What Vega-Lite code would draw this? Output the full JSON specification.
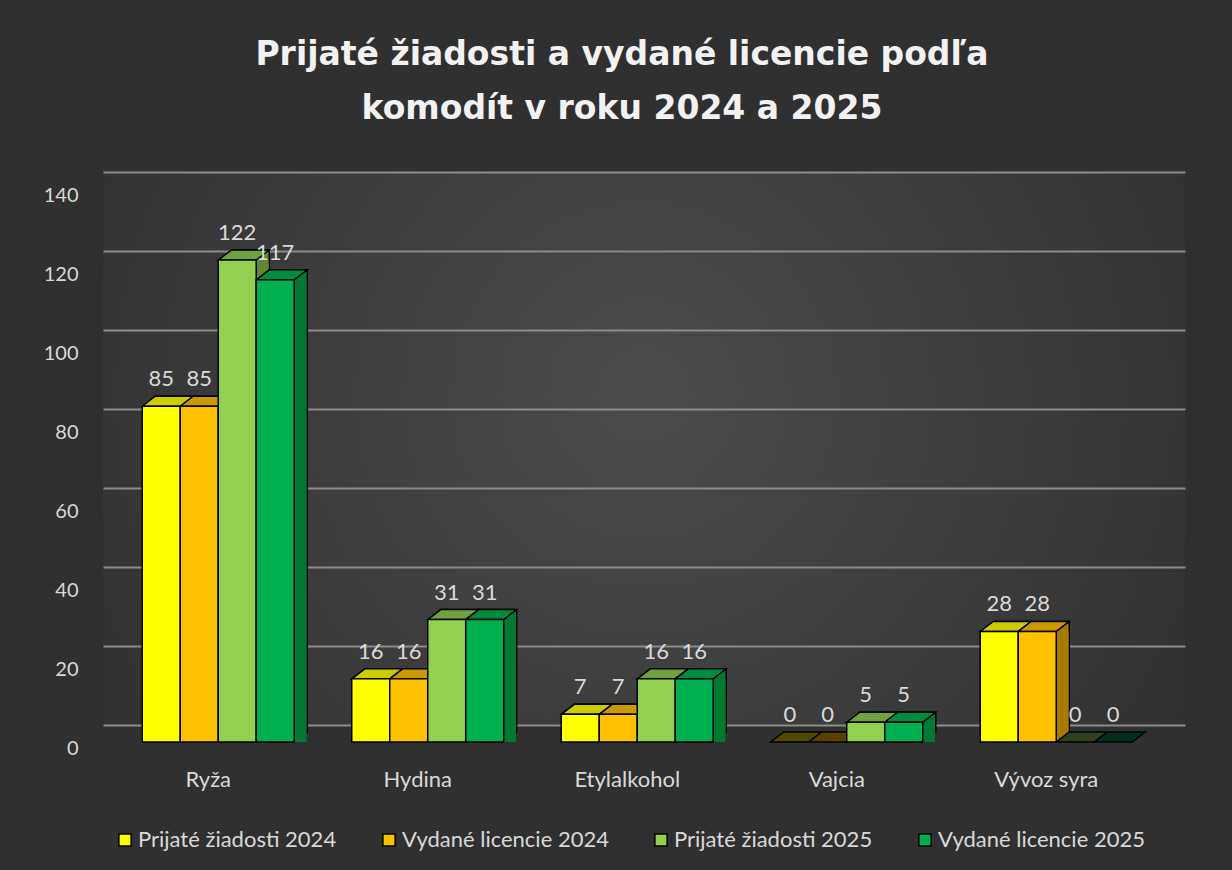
{
  "$schema": "https://vega.github.io/schema/vega-lite/v6.json",
  "width": 1082,
  "height": 553,
  "autosize": {"type": "none"},
  "padding": {"left": 103, "top": 172, "right": 47, "bottom": 145},
  "background": "#303030",
  "title": {
    "text": ["Prijaté žiadosti a vydané licencie podľa", "komodít v roku 2024 a 2025"],
    "font": "DejaVu Sans",
    "fontSize": 33,
    "fontWeight": "bold",
    "color": "#f2f2f2",
    "anchor": "middle",
    "frame": "group",
    "dx": -22,
    "offset": 46,
    "lineHeight": 54
  },
  "data": {
    "values": [
      {"komodita": "Ryža", "seria": "Prijaté žiadosti 2024", "hodnota": 85},
      {"komodita": "Ryža", "seria": "Vydané licencie 2024", "hodnota": 85},
      {"komodita": "Ryža", "seria": "Prijaté žiadosti 2025", "hodnota": 122},
      {"komodita": "Ryža", "seria": "Vydané licencie 2025", "hodnota": 117},
      {"komodita": "Hydina", "seria": "Prijaté žiadosti 2024", "hodnota": 16},
      {"komodita": "Hydina", "seria": "Vydané licencie 2024", "hodnota": 16},
      {"komodita": "Hydina", "seria": "Prijaté žiadosti 2025", "hodnota": 31},
      {"komodita": "Hydina", "seria": "Vydané licencie 2025", "hodnota": 31},
      {"komodita": "Etylalkohol", "seria": "Prijaté žiadosti 2024", "hodnota": 7},
      {"komodita": "Etylalkohol", "seria": "Vydané licencie 2024", "hodnota": 7},
      {"komodita": "Etylalkohol", "seria": "Prijaté žiadosti 2025", "hodnota": 16},
      {"komodita": "Etylalkohol", "seria": "Vydané licencie 2025", "hodnota": 16},
      {"komodita": "Vajcia", "seria": "Prijaté žiadosti 2024", "hodnota": 0},
      {"komodita": "Vajcia", "seria": "Vydané licencie 2024", "hodnota": 0},
      {"komodita": "Vajcia", "seria": "Prijaté žiadosti 2025", "hodnota": 5},
      {"komodita": "Vajcia", "seria": "Vydané licencie 2025", "hodnota": 5},
      {"komodita": "Vývoz syra", "seria": "Prijaté žiadosti 2024", "hodnota": 28},
      {"komodita": "Vývoz syra", "seria": "Vydané licencie 2024", "hodnota": 28},
      {"komodita": "Vývoz syra", "seria": "Prijaté žiadosti 2025", "hodnota": 0},
      {"komodita": "Vývoz syra", "seria": "Vydané licencie 2025", "hodnota": 0}
    ]
  },
  "encoding": {
    "x": {
      "field": "komodita",
      "type": "nominal",
      "sort": ["Ryža", "Hydina", "Etylalkohol", "Vajcia", "Vývoz syra"],
      "scale": {"paddingInner": 0, "paddingOuter": 0.0823, "align": 0.304},
      "axis": {"title": null, "labelAngle": 0, "labelPadding": 44, "labelOffset": -10, "labelFontSize": 22, "grid": false}
    },
    "y": {
      "field": "hodnota",
      "type": "quantitative",
      "scale": {"domain": [0, 140], "nice": false},
      "axis": {"title": null, "values": [0, 20, 40, 60, 80, 100, 120, 140], "grid": true, "labelPadding": 25, "labelOffset": 23}
    }
  },
  "layer": [
    {
      "transform": [{"filter": "datum.hodnota > 0"}],
      "mark": {"type": "bar", "yOffset": 7, "y2Offset": 7, "stroke": "black", "strokeWidth": 1.5},
      "encoding": {
        "xOffset": {"field": "seria", "type": "nominal", "sort": ["Prijaté žiadosti 2024", "Vydané licencie 2024", "Prijaté žiadosti 2025", "Vydané licencie 2025"], "scale": {"type": "band", "paddingInner": 0, "paddingOuter": 0.757, "align": 0.726}},
        "fill": {"field": "seria", "type": "nominal", "scale": {"domain": ["Prijaté žiadosti 2024", "Vydané licencie 2024", "Prijaté žiadosti 2025", "Vydané licencie 2025"], "range": ["#a3a300", "#a67b00", "#5e8a35", "#007a33"]}, "legend": null}
      }
    },
    {
      "transform": [{"filter": "datum.hodnota > 0"}],
      "mark": {"type": "bar", "yOffset": 17, "y2Offset": 17, "strokeWidth": 0},
      "encoding": {
        "xOffset": {"field": "seria", "type": "nominal", "sort": ["Prijaté žiadosti 2024", "Vydané licencie 2024", "Prijaté žiadosti 2025", "Vydané licencie 2025"], "scale": {"type": "band", "paddingInner": 0, "paddingOuter": 0.757, "align": 0.713}},
        "fill": {"field": "seria", "type": "nominal", "scale": {"domain": ["Prijaté žiadosti 2024", "Vydané licencie 2024", "Prijaté žiadosti 2025", "Vydané licencie 2025"], "range": ["#a3a300", "#a67b00", "#5e8a35", "#007a33"]}, "legend": null}
      }
    },
    {
      "transform": [{"filter": "datum.hodnota > 0"}],
      "mark": {"type": "point", "filled": true, "opacity": 1, "yOffset": 17, "size": 1444, "shape": "M-1,0L1,0L1.6842,-0.5263L-0.3158,-0.5263Z", "stroke": "black", "strokeWidth": 1.5},
      "encoding": {
        "xOffset": {"field": "seria", "type": "nominal", "sort": ["Prijaté žiadosti 2024", "Vydané licencie 2024", "Prijaté žiadosti 2025", "Vydané licencie 2025"], "scale": {"type": "band", "paddingInner": 0, "paddingOuter": 0.757}},
        "fill": {"field": "seria", "type": "nominal", "scale": {"domain": ["Prijaté žiadosti 2024", "Vydané licencie 2024", "Prijaté žiadosti 2025", "Vydané licencie 2025"], "range": ["#cccc00", "#cc9a00", "#70a23f", "#008c3f"]}, "legend": null}
      }
    },
    {
      "transform": [{"filter": "datum.hodnota == 0"}],
      "mark": {"type": "point", "filled": true, "opacity": 1, "yOffset": 17, "size": 1444, "shape": "M-1,0L1,0L1.6842,-0.5263L-0.3158,-0.5263Z", "stroke": "black", "strokeWidth": 1.5},
      "encoding": {
        "xOffset": {"field": "seria", "type": "nominal", "sort": ["Prijaté žiadosti 2024", "Vydané licencie 2024", "Prijaté žiadosti 2025", "Vydané licencie 2025"], "scale": {"type": "band", "paddingInner": 0, "paddingOuter": 0.757}},
        "fill": {"field": "seria", "type": "nominal", "scale": {"domain": ["Prijaté žiadosti 2024", "Vydané licencie 2024", "Prijaté žiadosti 2025", "Vydané licencie 2025"], "range": ["#4f4a00", "#5a4000", "#2e4020", "#00301a"]}, "legend": null}
      }
    },
    {
      "transform": [{"filter": "datum.hodnota > 0"}],
      "mark": {"type": "bar", "yOffset": 17, "y2Offset": 17, "stroke": "black", "strokeWidth": 1.5},
      "encoding": {
        "xOffset": {"field": "seria", "type": "nominal", "sort": ["Prijaté žiadosti 2024", "Vydané licencie 2024", "Prijaté žiadosti 2025", "Vydané licencie 2025"], "scale": {"type": "band", "paddingInner": 0, "paddingOuter": 0.757}},
        "fill": {
          "field": "seria",
          "type": "nominal",
          "scale": {"domain": ["Prijaté žiadosti 2024", "Vydané licencie 2024", "Prijaté žiadosti 2025", "Vydané licencie 2025"], "range": ["#ffff00", "#ffc000", "#92d050", "#00b050"]},
          "legend": {
            "orient": "none",
            "legendX": 11,
            "legendY": 657,
            "direction": "horizontal",
            "columns": 4,
            "title": null,
            "symbolType": "square",
            "symbolSize": 150,
            "symbolStrokeColor": "black",
            "symbolStrokeWidth": 1.5,
            "labelColor": "#d9d9d9",
            "labelFont": "Lato",
            "labelFontSize": 22,
            "labelLimit": 400,
            "labelOffset": 2,
            "columnPadding": 41,
            "padding": 0
          }
        }
      }
    },
    {
      "mark": {"type": "text", "yOffset": -10, "baseline": "middle", "align": "center", "font": "Lato", "fontSize": 22, "color": "#d9d9d9"},
      "encoding": {
        "xOffset": {"field": "seria", "type": "nominal", "sort": ["Prijaté žiadosti 2024", "Vydané licencie 2024", "Prijaté žiadosti 2025", "Vydané licencie 2025"], "scale": {"type": "band", "paddingInner": 0, "paddingOuter": 0.757}},
        "text": {"field": "hodnota", "type": "quantitative"}
      }
    }
  ],
  "resolve": {"scale": {"fill": "independent", "xOffset": "independent"}},
  "config": {
    "font": "Lato",
    "view": {
      "stroke": null,
      "fill": {
        "gradient": "radial",
        "x1": 0.5, "y1": 0.45, "r1": 0,
        "x2": 0.5, "y2": 0.45, "r2": 0.6,
        "stops": [{"offset": 0, "color": "#4b4b4b"}, {"offset": 1, "color": "#303030"}]
      }
    },
    "axis": {
      "labelColor": "#d9d9d9",
      "labelFont": "Lato",
      "labelFontSize": 20,
      "domain": false,
      "ticks": false,
      "gridColor": "#8c8c8c",
      "gridWidth": 2
    }
  }
}
